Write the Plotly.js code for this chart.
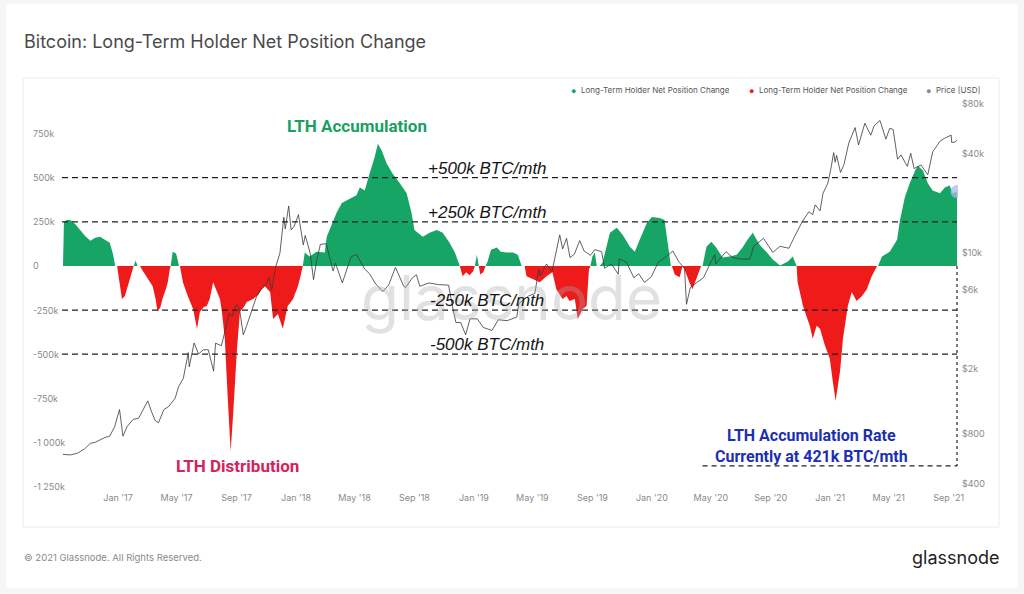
<!DOCTYPE html>
<html>
<head>
<meta charset="utf-8">
<script src="https://cdn.plot.ly/plotly-3.0.1.min.js"></script>
<style>
  html, body { margin: 0; padding: 0; background: #f6f6f6; }
  #chart { width: 1024px; height: 594px; }
</style>
</head>
<body>
<div id="chart"></div>
<script>
// Long-Term Holder net position change (thousand BTC per month), sampled
const lthDates = [
  '2016-09-10','2016-09-12','2016-09-18','2016-09-25','2016-10-05','2016-10-15','2016-10-25','2016-11-05','2016-11-15','2016-11-25',
  '2016-12-05','2016-12-15','2016-12-22','2016-12-26','2016-12-30','2017-01-03','2017-01-09','2017-01-15','2017-01-19','2017-01-25',
  '2017-01-31','2017-02-02','2017-02-06','2017-02-10','2017-02-15','2017-02-19','2017-03-01','2017-03-13','2017-03-19','2017-03-23',
  '2017-03-29','2017-04-02','2017-04-09','2017-04-13','2017-04-17','2017-04-19','2017-04-23','2017-04-30','2017-05-04','2017-05-06',
  '2017-05-08','2017-05-14','2017-05-24','2017-06-04','2017-06-12','2017-06-18','2017-06-26','2017-07-02','2017-07-08','2017-07-15',
  '2017-07-19','2017-07-23','2017-07-29','2017-08-02','2017-08-08','2017-08-14','2017-08-20','2017-08-25','2017-08-29','2017-09-02',
  '2017-09-08','2017-09-16','2017-09-22','2017-10-05','2017-10-15','2017-10-23','2017-10-29','2017-11-09','2017-11-15','2017-11-25',
  '2017-12-05','2017-12-09','2017-12-15','2017-12-26','2018-01-05','2018-01-11','2018-01-15','2018-01-19','2018-01-29','2018-02-12',
  '2018-03-01','2018-03-05','2018-03-25','2018-04-05','2018-04-15','2018-05-05','2018-05-12','2018-05-22','2018-06-01','2018-06-11',
  '2018-06-18','2018-06-26','2018-07-06','2018-07-18','2018-08-02','2018-08-16','2018-08-26','2018-09-01','2018-09-18','2018-10-02',
  '2018-10-17','2018-10-29','2018-11-12','2018-11-23','2018-12-03','2018-12-09','2018-12-16','2018-12-23','2018-12-30','2019-01-03',
  '2019-01-07','2019-01-11','2019-01-14','2019-01-20','2019-01-25','2019-01-29','2019-02-05','2019-02-17','2019-02-25','2019-03-09',
  '2019-03-22','2019-04-01','2019-04-09','2019-04-15','2019-04-19','2019-05-02','2019-05-16','2019-05-30','2019-06-11','2019-06-19',
  '2019-07-02','2019-07-10','2019-07-16','2019-07-27','2019-08-02','2019-08-12','2019-08-20','2019-08-25','2019-08-28','2019-09-01',
  '2019-09-06','2019-09-10','2019-09-16','2019-09-22','2019-10-07','2019-10-21','2019-11-02','2019-11-17','2019-11-27','2019-12-07',
  '2019-12-22','2020-01-01','2020-01-17','2020-01-27','2020-02-03','2020-02-09','2020-02-11','2020-02-17','2020-02-27','2020-03-04',
  '2020-03-08','2020-03-18','2020-03-24','2020-04-01','2020-04-11','2020-04-14','2020-04-22','2020-05-02','2020-05-12','2020-05-25',
  '2020-06-08','2020-06-23','2020-07-05','2020-07-15','2020-07-26','2020-08-09','2020-08-24','2020-09-05','2020-09-20','2020-10-06',
  '2020-10-16','2020-10-24','2020-10-26','2020-11-06','2020-11-20','2020-11-26','2020-12-04','2020-12-11','2020-12-21','2020-12-31',
  '2021-01-06','2021-01-12','2021-01-21','2021-01-27','2021-02-06','2021-02-14','2021-02-24','2021-03-07','2021-03-17','2021-03-27',
  '2021-04-07','2021-04-09','2021-04-17','2021-05-03','2021-05-18','2021-05-24','2021-06-03','2021-06-13','2021-06-24','2021-06-30',
  '2021-07-10','2021-07-20','2021-07-30','2021-08-14','2021-08-24','2021-09-03','2021-09-09','2021-09-18'
];
const lthValues = [
  0, 249, 260, 260, 238, 204, 171, 143, 160, 165,
  148, 132, 64, 0, 0, -76, -188, -171, -132, -76,
  -20, 0, 31, 0, 0, -20, -64, -115, -188, -260,
  -232, -188, -132, -92, -20, 0, 81, 70, 25, 0,
  0, -92, -171, -244, -356, -260, -232, -227, -188, -92,
  -120, -143, -188, -260, -412, -748, -1050, -843, -636, -468,
  -260, -232, -204, -188, -165, -132, -115, -148, -300, -272,
  -356, -300, -227, -188, -115, -48, 0, 76, 53, 81,
  76, 165, 300, 356, 372, 400, 445, 428, 524, 613,
  692, 652, 580, 524, 468, 412, 300, 204, 165, 188,
  204, 188, 132, 76, 0, -59, -36, -53, -31, 0,
  64, 0, -48, -36, 0, 25, 92, 104, 81, 76,
  76, 64, 0, 0, -59, -76, -92, -59, -36, -132,
  -188, -171, -199, -188, -300, -244, -227, -20, 0, 53,
  76, 0, 0, 20, 188, 216, 176, 109, 81, 148,
  244, 277, 272, 260, 109, 0, 0, -48, -64, 0,
  -20, -92, -132, -76, 0, 0, 109, 137, 104, 48,
  53, 64, 104, 148, 188, 120, 76, 36, 3, 25,
  53, 0, -92, -227, -339, -412, -339, -356, -451, -524,
  -652, -764, -596, -412, -227, -148, -199, -171, -132, -59,
  0, 0, 53, 81, 148, 260, 389, 468, 540, 568,
  540, 468, 428, 412, 445, 456, 412, 421
];

// Bitcoin price (USD)
const priceDates = [
  '2016-09-10','2016-09-25','2016-10-10','2016-10-25','2016-11-05','2016-11-15','2016-11-25','2016-12-05','2016-12-15','2016-12-25',
  '2017-01-04','2017-01-11','2017-01-20','2017-02-01','2017-02-12','2017-02-24','2017-03-03','2017-03-10','2017-03-18','2017-03-25',
  '2017-04-05','2017-04-15','2017-04-28','2017-05-05','2017-05-15','2017-05-25','2017-05-27','2017-06-06','2017-06-12','2017-06-15',
  '2017-06-25','2017-07-05','2017-07-16','2017-07-20','2017-08-01','2017-08-08','2017-08-17','2017-08-23','2017-09-01','2017-09-07',
  '2017-09-15','2017-09-22','2017-10-01','2017-10-12','2017-10-20','2017-10-31','2017-11-07','2017-11-12','2017-11-20','2017-11-29',
  '2017-12-07','2017-12-10','2017-12-17','2017-12-22','2017-12-28','2018-01-06','2018-01-16','2018-01-20','2018-01-30','2018-02-06',
  '2018-02-12','2018-02-20','2018-03-04','2018-03-18','2018-03-23','2018-04-06','2018-04-24','2018-05-05','2018-05-22','2018-06-01',
  '2018-06-12','2018-06-28','2018-07-10','2018-07-24','2018-08-10','2018-08-14','2018-08-28','2018-09-05','2018-09-12','2018-10-01',
  '2018-10-20','2018-11-10','2018-11-19','2018-11-25','2018-12-05','2018-12-15','2018-12-24','2019-01-08','2019-01-20','2019-02-07',
  '2019-02-20','2019-03-10','2019-03-30','2019-04-03','2019-04-23','2019-05-06','2019-05-14','2019-05-17','2019-05-30','2019-06-10',
  '2019-06-26','2019-07-02','2019-07-10','2019-07-17','2019-07-26','2019-08-06','2019-08-15','2019-08-28','2019-09-06','2019-09-20',
  '2019-09-26','2019-10-10','2019-10-24','2019-10-26','2019-11-10','2019-11-25','2019-12-05','2019-12-17','2019-12-31','2020-01-14',
  '2020-01-30','2020-02-13','2020-02-26','2020-03-08','2020-03-12','2020-03-20','2020-04-01','2020-04-16','2020-04-30','2020-05-09',
  '2020-05-11','2020-06-01','2020-06-15','2020-07-01','2020-07-20','2020-07-28','2020-08-17','2020-09-05','2020-09-20','2020-10-08',
  '2020-10-21','2020-11-05','2020-11-18','2020-11-26','2020-12-01','2020-12-11','2020-12-17','2020-12-27','2021-01-02','2021-01-08',
  '2021-01-11','2021-01-14','2021-01-22','2021-01-29','2021-02-08','2021-02-21','2021-02-28','2021-03-13','2021-03-25','2021-04-01',
  '2021-04-13','2021-04-25','2021-05-03','2021-05-10','2021-05-19','2021-05-26','2021-06-08','2021-06-15','2021-06-22','2021-07-06',
  '2021-07-20','2021-07-30','2021-08-14','2021-08-23','2021-09-06','2021-09-07','2021-09-14','2021-09-18'
];
const priceValues = [
  605, 600, 615, 655, 705, 715, 740, 765, 780, 890,
  1130, 780, 895, 985, 1000, 1180, 1275, 1110, 970, 940,
  1130, 1180, 1320, 1550, 1750, 2500, 2050, 2860, 2600, 2450,
  2600, 2600, 1930, 2850, 2750, 3400, 4300, 4150, 4900, 4600,
  3200, 3650, 4400, 5450, 6000, 6450, 7150, 5950, 8200, 10000,
  16500, 14000, 19300, 13800, 14500, 17100, 11200, 12800, 10000, 6900,
  8900, 11300, 11400, 7800, 8700, 6600, 9500, 9800, 8000, 7500,
  6600, 5850, 6400, 8200, 6300, 6200, 7100, 7400, 6300, 6600,
  6450, 6400, 4600, 3800, 3800, 3200, 4000, 4000, 3550, 3400,
  3950, 3900, 4100, 4950, 5500, 5700, 8000, 7300, 8600, 7700,
  12900, 10600, 12300, 9400, 9850, 11900, 10300, 9700, 10500, 10200,
  8100, 8600, 7450, 9250, 8800, 7100, 7500, 6650, 7200, 8800,
  9500, 10300, 8800, 8100, 4900, 6200, 6600, 7100, 8700, 9800,
  8600, 10200, 9400, 9200, 9200, 11000, 12300, 10100, 11000, 10700,
  12800, 15600, 17800, 17100, 19600, 18000, 23000, 26500, 32200, 40600,
  35500, 39000, 30800, 34300, 46400, 57500, 45200, 61200, 51700, 59000,
  63500, 49000, 57000, 56000, 37000, 39300, 33500, 40200, 32500, 34200,
  29800, 41000, 47500, 49500, 51800, 46800, 47000, 48300
];

// Reference levels (thousand BTC per month)
const levels = [500, 250, -250, -500];
const levelLabels = ['+500k BTC/mth', '+250k BTC/mth', '-250k BTC/mth', '-500k BTC/mth'];

// Axis ticks
const lthTickVals = [750, 500, 250, 0, -250, -500, -750, -1000, -1250];
const lthTickText = ['750k', '500k', '250k', '0', '-250k', '-500k', '-750k', '-1 000k', '-1 250k'];
const priceTickVals = [400, 800, 2000, 6000, 10000, 40000, 80000];
const priceTickText = ['$400', '$800', '$2k', '$6k', '$10k', '$40k', '$80k'];

const seriesName = 'Long-Term Holder Net Position Change';
const GREEN = '#17a566';
const RED = '#ef1a1a';
const FONT = 'Inter, "Noto Sans", sans-serif';
const TICK_FONT = { family: FONT, size: 9, color: '#8a8a8a' };

// Page geometry (pixels)
const W = 1024, H = 594;
const M = { l: 28, r: 66, t: 100, b: 106 };
const plotW = W - M.l - M.r, plotH = H - M.t - M.b;
const px = x => (x - M.l) / plotW;          // pixel x -> paper x
const py = y => (H - M.b - y) / plotH;      // pixel y -> paper y

const posVals = lthValues.map(v => (v > 0 ? v : 0));
const negVals = lthValues.map(v => (v < 0 ? v : 0));
const lastDate = lthDates[lthDates.length - 1];
const lastValue = lthValues[lthValues.length - 1];

const traces = [
  { x: lthDates, y: posVals, type: 'scatter', mode: 'lines', fill: 'tozeroy',
    fillcolor: GREEN, line: { width: 0, color: GREEN }, name: seriesName, showlegend: false },
  { x: lthDates, y: negVals, type: 'scatter', mode: 'lines', fill: 'tozeroy',
    fillcolor: RED, line: { width: 0, color: RED }, name: seriesName, showlegend: false },
  { x: priceDates, y: priceValues, type: 'scatter', mode: 'lines', yaxis: 'y2',
    line: { width: 0.8, color: '#3a3a3a' }, name: 'Price [USD]', showlegend: false },
  { x: [lastDate], y: [lastValue], type: 'scatter', mode: 'markers',
    marker: { size: 13, color: 'rgba(168,186,236,0.75)' }, showlegend: false }
];

const calloutStart = '2020-04-14';
const calloutFloor = -1133;

const shapes = [
  // card and inner frame
  { type: 'rect', xref: 'paper', yref: 'paper', x0: px(6), x1: px(1018), y0: py(588), y1: py(4),
    fillcolor: '#ffffff', line: { width: 0 }, layer: 'below' },
  { type: 'rect', xref: 'paper', yref: 'paper', x0: px(23), x1: px(999), y0: py(527), y1: py(78),
    fillcolor: 'rgba(0,0,0,0)', line: { width: 1, color: '#ececec' }, layer: 'below' },
  // callout frame for the current rate
  { type: 'line', xref: 'x', yref: 'y', x0: lastDate, x1: lastDate, y0: 0, y1: calloutFloor,
    line: { color: '#222', width: 1.2, dash: '3px,3px' } },
  { type: 'line', xref: 'x', yref: 'y', x0: calloutStart, x1: lastDate, y0: calloutFloor, y1: calloutFloor,
    line: { color: '#222', width: 1.2, dash: '5px,4px' } }
];
levels.forEach(v => shapes.push({
  type: 'line', xref: 'paper', yref: 'y', x0: px(62), x1: px(957), y0: v, y1: v,
  line: { color: '#222', width: 1.2, dash: '6px,4px' }
}));

// text placed in pixel terms; centred unless stated otherwise
function label(x, y, text, font, extra) {
  return Object.assign({ xref: 'paper', yref: 'paper', x: px(x), y: py(y), text: text, showarrow: false,
    xanchor: 'center', yanchor: 'middle', font: font }, extra || {});
}

const annotations = [];
// watermark
annotations.push(label(512, 297, 'glassnode', { family: FONT, size: 62, color: 'rgba(170,170,170,0.35)' }));
// left-aligned value axis labels
lthTickVals.forEach((v, i) => annotations.push({
  xref: 'paper', yref: 'y', x: px(31), y: v, xanchor: 'left', yanchor: 'middle',
  text: lthTickText[i], showarrow: false, font: TICK_FONT
}));
// level labels
levels.forEach((v, i) => annotations.push({
  xref: 'paper', yref: 'y', x: px(487), y: v, xanchor: 'center', yanchor: 'bottom', yshift: -2,
  text: levelLabels[i], showarrow: false,
  font: { family: '"Liberation Sans", Arial, sans-serif', size: 17, style: 'italic', color: '#151515' }
}));
annotations.push(
  label(357, 126, '<b>LTH Accumulation</b>', { family: 'Roboto, sans-serif', size: 17, color: '#1a9f62' }),
  label(237, 466, '<b>LTH Distribution</b>', { family: 'Roboto, sans-serif', size: 17, color: '#d6215b' }),
  label(811, 446, '<b>LTH Accumulation Rate</b><br><b>Currently at ' + lastValue + 'k BTC/mth</b>',
    { family: 'Roboto, sans-serif', size: 16, color: '#1c2fb3' }),
  // legend
  label(573, 90, '●', { size: 9, color: GREEN }),
  label(579, 90, seriesName, { family: FONT, size: 8, color: '#555' }, { xanchor: 'left' }),
  label(751, 90, '●', { size: 9, color: RED }),
  label(757, 90, seriesName, { family: FONT, size: 8, color: '#555' }, { xanchor: 'left' }),
  label(928, 90, '●', { size: 9, color: '#888' }),
  label(934, 90, 'Price [USD]', { family: FONT, size: 8, color: '#555' }, { xanchor: 'left' }),
  // footer
  label(22, 557, '© 2021 Glassnode. All Rights Reserved.', { family: FONT, size: 9.5, color: '#8a8a8a' }, { xanchor: 'left' }),
  label(1001, 557, 'glassnode', { family: FONT, size: 18, color: '#1e1e1e' }, { xanchor: 'right' })
);

const layout = {
  width: W, height: H,
  margin: M,
  paper_bgcolor: '#f6f6f6',
  plot_bgcolor: 'rgba(0,0,0,0)',
  showlegend: false,
  hovermode: false,
  title: { text: 'Bitcoin: Long-Term Holder Net Position Change', x: 24 / W, xanchor: 'left',
    y: 1 - 42 / H, yanchor: 'middle', font: { family: FONT, size: 18, color: '#4a4a4a' } },
  xaxis: {
    type: 'date', domain: [px(62), 1], range: ['2016-09-08', '2021-09-20'],
    tick0: '2017-01-01', dtick: 'M4', tickformat: "%b '%y", ticklabelstandoff: 3,
    showgrid: false, zeroline: false, showline: false, ticks: '', tickfont: TICK_FONT
  },
  yaxis: {
    range: [-1258, 940], anchor: 'free', position: 0, side: 'left',
    tickvals: lthTickVals, showticklabels: false,
    showgrid: false, zeroline: false, showline: false, ticks: ''
  },
  yaxis2: {
    type: 'log', overlaying: 'y', side: 'right', anchor: 'x', range: [2.578, 4.927],
    tickvals: priceTickVals, ticktext: priceTickText,
    showgrid: false, zeroline: false, showline: false, ticks: '', ticklabelstandoff: 3, tickfont: TICK_FONT
  },
  shapes: shapes,
  annotations: annotations
};

Plotly.newPlot('chart', traces, layout, { staticPlot: true, displayModeBar: false });
</script>
</body>
</html>
